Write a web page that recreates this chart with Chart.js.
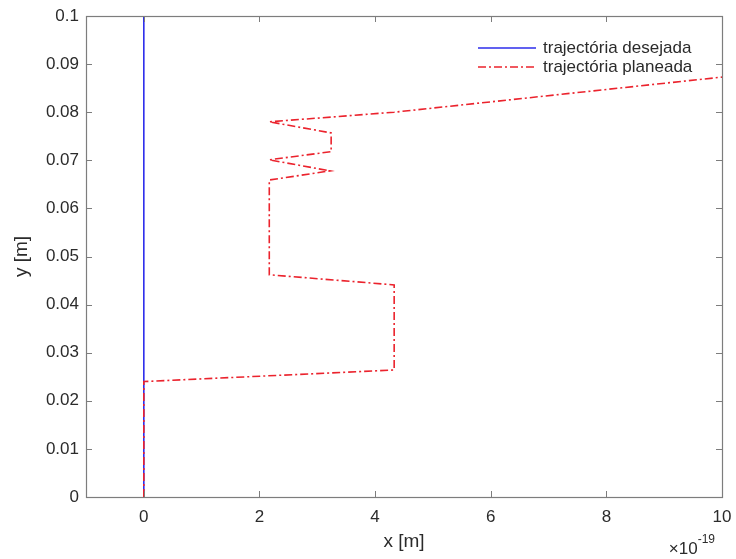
<!DOCTYPE html>
<html>
<head>
<meta charset="utf-8">
<script src="https://cdn.jsdelivr.net/npm/chart.js@4.4.1/dist/chart.umd.min.js"></script>
<style>
  html, body { margin: 0; padding: 0; background: #ffffff; }
  #wrap { position: relative; width: 736px; height: 559px; }
</style>
</head>
<body>
<div id="wrap"><canvas id="chart" width="736" height="559"></canvas></div>
<script>
// x values are in units of 1e-19 m (see the exponent label under the x axis)
const xExponent = -19;

// desired trajectory: straight vertical line at x = 0
const desejadaX = [0, 0];
const desejadaY = [0, 0.1];

// planned trajectory
const planeadaX = [0, 0, 4.33, 4.33, 2.17, 2.17, 3.22, 2.17, 3.24, 3.24, 2.17, 4.33, 10];
const planeadaY = [0, 0.024, 0.0264, 0.0441, 0.0462, 0.0659, 0.0678, 0.0701, 0.0718, 0.0757, 0.078, 0.080, 0.0873];

// axis ticks and labels
const xTicks = [0, 2, 4, 6, 8, 10];
const xTickLabels = ['0', '2', '4', '6', '8', '10'];
const yTicks = [0, 0.01, 0.02, 0.03, 0.04, 0.05, 0.06, 0.07, 0.08, 0.09, 0.1];
const yTickLabels = ['0', '0.01', '0.02', '0.03', '0.04', '0.05', '0.06', '0.07', '0.08', '0.09', '0.1'];

const seriesNames = ['trajectória desejada', 'trajectória planeada'];

const FONT = '"Liberation Sans", Arial, Helvetica, sans-serif';
const AXIS_COLOR = '#7d7d7d';
const TEXT_COLOR = '#2b2b2b';
const BLUE = 'rgb(45, 45, 235)';
const RED = 'rgb(235, 35, 45)';

const toPoints = (xs, ys) => xs.map((x, i) => ({ x: x, y: ys[i] }));

// keep the plot area fixed: no extra room reserved for overhanging tick labels
const noOverhang = s => {
  s.paddingLeft = 0; s.paddingRight = 0; s.paddingTop = 0; s.paddingBottom = 0;
};

// box around the plot area with inward-pointing ticks on all four sides
const boxPlugin = {
  id: 'matlabBox',
  afterDraw(chart) {
    const { ctx, chartArea: a, scales } = chart;
    const len = 6;
    ctx.save();
    ctx.strokeStyle = AXIS_COLOR;
    ctx.lineWidth = 1;
    ctx.beginPath();
    scales.x.ticks.forEach(t => {
      const px = Math.round(scales.x.getPixelForValue(t.value)) + 0.5;
      ctx.moveTo(px, a.bottom); ctx.lineTo(px, a.bottom - len);
      ctx.moveTo(px, a.top); ctx.lineTo(px, a.top + len);
    });
    scales.y.ticks.forEach(t => {
      const py = Math.round(scales.y.getPixelForValue(t.value)) + 0.5;
      ctx.moveTo(a.left, py); ctx.lineTo(a.left + len, py);
      ctx.moveTo(a.right, py); ctx.lineTo(a.right - len, py);
    });
    ctx.stroke();
    ctx.lineWidth = 1.2;
    ctx.strokeRect(Math.round(a.left) + 0.5, Math.round(a.top) + 0.5,
                   Math.round(a.right - a.left), Math.round(a.bottom - a.top));

    // exponent label for the x axis
    ctx.fillStyle = TEXT_COLOR;
    ctx.textBaseline = 'alphabetic';
    ctx.textAlign = 'left';
    ctx.font = '12px ' + FONT;
    const sup = '-' + String(Math.abs(xExponent));
    const supW = ctx.measureText(sup).width;
    ctx.font = '17px ' + FONT;
    const base = '\u00d710';
    const baseW = ctx.measureText(base).width;
    const right = a.right - 7;
    ctx.fillText(base, right - supW - baseW, a.bottom + 57);
    ctx.font = '12px ' + FONT;
    ctx.fillText(sup, right - supW, a.bottom + 46);
    ctx.restore();
  }
};

// legend drawn inside the upper right corner of the plot area
const legendPlugin = {
  id: 'innerLegend',
  afterDatasetsDraw(chart) {
    const { ctx, chartArea: a } = chart;
    ctx.save();
    chart.data.datasets.forEach((ds, i) => {
      const y = a.top + 32 + i * 19;
      const x0 = a.right - 244, x1 = a.right - 186;
      ctx.strokeStyle = ds.borderColor;
      ctx.lineWidth = ds.borderWidth;
      ctx.setLineDash(ds.borderDash || []);
      ctx.beginPath();
      ctx.moveTo(x0, y); ctx.lineTo(x1, y);
      ctx.stroke();
      ctx.setLineDash([]);
      ctx.fillStyle = TEXT_COLOR;
      ctx.font = '17px ' + FONT;
      ctx.textAlign = 'left';
      ctx.textBaseline = 'middle';
      ctx.fillText(ds.label, a.right - 179, y);
    });
    ctx.restore();
  }
};

new Chart(document.getElementById('chart'), {
  type: 'scatter',
  data: {
    datasets: [
      {
        label: seriesNames[0],
        data: toPoints(desejadaX, desejadaY),
        showLine: true,
        borderColor: BLUE,
        borderWidth: 1.6,
        pointRadius: 0,
        order: 2
      },
      {
        label: seriesNames[1],
        data: toPoints(planeadaX, planeadaY),
        showLine: true,
        borderColor: RED,
        borderWidth: 1.6,
        borderDash: [8, 3, 2, 3],
        pointRadius: 0,
        order: 1
      }
    ]
  },
  options: {
    responsive: false,
    animation: false,
    devicePixelRatio: 1,
    layout: { padding: { left: 0, right: 14, top: 16, bottom: 0 } },
    plugins: {
      legend: { display: false },
      tooltip: { enabled: false }
    },
    scales: {
      x: {
        type: 'linear',
        min: -1,
        max: 10,
        afterBuildTicks: s => { s.ticks = xTicks.map(v => ({ value: v })); },
        afterFit: s => { s.height = 62; noOverhang(s); },
        grid: { display: false, drawTicks: false },
        border: { display: false },
        ticks: {
          padding: 10,
          color: TEXT_COLOR,
          font: { family: FONT, size: 17 },
          maxRotation: 0,
          callback: v => xTickLabels[xTicks.indexOf(v)]
        },
        title: {
          display: true,
          text: 'x [m]',
          color: TEXT_COLOR,
          font: { family: FONT, size: 19 },
          padding: { top: 0, bottom: 6 }
        }
      },
      y: {
        type: 'linear',
        min: 0,
        max: 0.1,
        afterBuildTicks: s => { s.ticks = yTicks.map(v => ({ value: v })); },
        afterFit: s => { s.width = 86; noOverhang(s); },
        grid: { display: false, drawTicks: false },
        border: { display: false },
        ticks: {
          padding: 7,
          color: TEXT_COLOR,
          font: { family: FONT, size: 17 },
          callback: (v, i) => yTickLabels[i]
        },
        title: {
          display: true,
          text: 'y [m]',
          color: TEXT_COLOR,
          font: { family: FONT, size: 19 },
          padding: { top: 10, bottom: 0 }
        }
      }
    }
  },
  plugins: [boxPlugin, legendPlugin]
});
</script>
</body>
</html>
